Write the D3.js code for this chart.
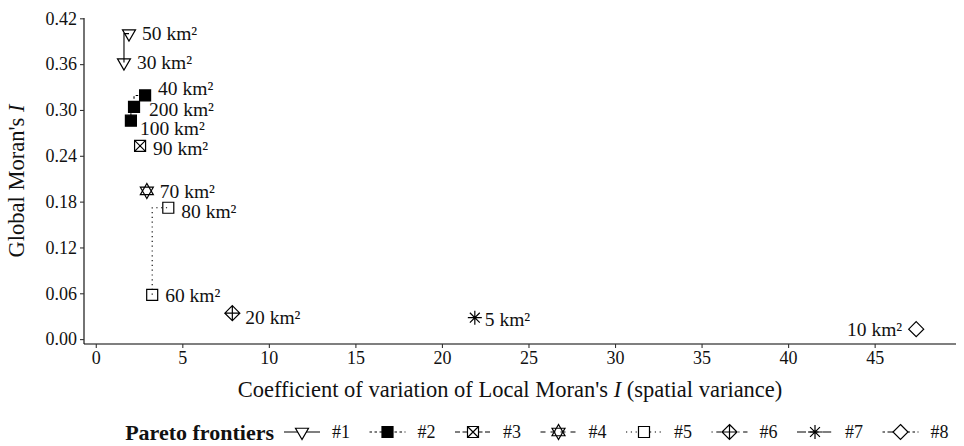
<!DOCTYPE html>
<html>
<head>
<meta charset="utf-8">
<script src="https://cdn.jsdelivr.net/npm/d3@7"></script>
<style>
  body { margin: 0; background: #fff; }
  svg text { font-family: "Liberation Serif", "Times New Roman", serif; fill: #111; }
</style>
</head>
<body>
<svg width="964" height="446" font-family="Liberation Serif, Times New Roman, serif"></svg>
<script>
// data
var frontiers = ["#1", "#2", "#3", "#4", "#5", "#6", "#7", "#8"];
var pointFrontier = [1, 1, 2, 2, 2, 3, 4, 5, 5, 6, 7, 8];
var cvLocal = [1.63, 1.92, 2.03, 2.21, 2.85, 2.56, 2.95, 3.26, 4.19, 7.89, 21.9, 47.4];
var globalI = [0.362, 0.400, 0.286, 0.304, 0.319, 0.253, 0.194, 0.058, 0.172, 0.034, 0.028, 0.013];
var areaLabels = ["30 km²", "50 km²", "100 km²", "200 km²", "40 km²", "90 km²", "70 km²", "60 km²", "80 km²", "20 km²", "5 km²", "10 km²"];
var xTicks = [0, 5, 10, 15, 20, 25, 30, 35, 40, 45];
var yTicks = [0.00, 0.06, 0.12, 0.18, 0.24, 0.30, 0.36, 0.42];

var svg = d3.select("svg");
var serif = "Liberation Serif, Times New Roman, serif";

var x = d3.scaleLinear().domain([-0.68, 49.7]).range([84, 956]);
var y = d3.scaleLinear().domain([-0.0064, 0.4204]).range([344, 18]);

// line types and shapes per frontier (ggplot defaults)
var dashes = ["none", "2.5,2.5", "5,2.5", "5,5", "1.2,3.6", "1.2,3.6,5,3.6", "9,3.6", "2.5,2.5,7.5,2.5"];
var shapes = ["triDown", "squareFill", "squareCross", "star", "square", "diamondPlus", "asterisk", "diamond"];

function shapePath(kind) {
    var p = d3.path(), s = 5.5, R = 7.5, c = R * Math.cos(Math.PI / 6), d = 7.5, a = 7;
    function tri(dir) {
        p.moveTo(0, dir * R); p.lineTo(-c, -dir * R / 2); p.lineTo(c, -dir * R / 2); p.closePath();
    }
    if (kind == "triDown") tri(1);
    else if (kind == "star") { tri(1); tri(-1); }
    else if (kind == "square" || kind == "squareFill" || kind == "squareCross") {
        p.rect(-s, -s, 2 * s, 2 * s);
        if (kind == "squareCross") { p.moveTo(-s, -s); p.lineTo(s, s); p.moveTo(s, -s); p.lineTo(-s, s); }
    }
    else if (kind == "diamond" || kind == "diamondPlus") {
        p.moveTo(0, -d); p.lineTo(d, 0); p.lineTo(0, d); p.lineTo(-d, 0); p.closePath();
        if (kind == "diamondPlus") { p.moveTo(0, -d); p.lineTo(0, d); p.moveTo(-d, 0); p.lineTo(d, 0); }
    }
    else if (kind == "asterisk") {
        var q = a * Math.SQRT1_2;
        p.moveTo(-a, 0); p.lineTo(a, 0); p.moveTo(0, -a); p.lineTo(0, a);
        p.moveTo(-q, -q); p.lineTo(q, q); p.moveTo(q, -q); p.lineTo(-q, q);
    }
    return p.toString();
}

function drawShape(g, i) {
    var k = shapes[i];
    g.append("path")
        .attr("d", shapePath(k))
        .attr("fill", k == "squareFill" ? "#000" : "none")
        .attr("stroke", "#000")
        .attr("stroke-width", 1.2)
        .attr("stroke-linejoin", "miter");
}

var points = areaLabels.map(function(l, i) {
    return { f: pointFrontier[i], x: cvLocal[i], y: globalI[i], label: l };
});

// axes
var xAxis = svg.append("g")
    .attr("transform", "translate(0,344)")
    .call(d3.axisBottom(x).tickValues(xTicks).tickSize(4).tickPadding(3).tickFormat(d3.format("d")));
var yAxis = svg.append("g")
    .attr("transform", "translate(84,0)")
    .call(d3.axisLeft(y).tickValues(yTicks).tickSize(4).tickPadding(3).tickFormat(d3.format(".2f")));

[xAxis, yAxis].forEach(function(a) {
    a.attr("font-family", serif).attr("font-size", 18);
    a.select(".domain").attr("stroke", "#000").attr("stroke-width", 1.1);
    a.selectAll(".tick line").attr("stroke", "#333").attr("stroke-width", 1.1);
    a.selectAll(".tick text").style("font-size", "18px").attr("fill", "#222");
});
xAxis.select(".domain").attr("d", "M84,0H956");
yAxis.select(".domain").attr("d", "M0,18V344");

// axis titles
svg.append("text")
    .attr("x", 510).attr("y", 397)
    .attr("text-anchor", "middle")
    .style("font-size", "22.5px")
    .html('Coefficient of variation of Local Moran\'s <tspan font-style="italic">I</tspan> (spatial variance)');

svg.append("text")
    .attr("transform", "translate(24,181) rotate(-90)")
    .attr("text-anchor", "middle")
    .style("font-size", "22.5px")
    .html('Global Moran\'s <tspan font-style="italic">I</tspan>');

// step lines for frontiers with more than one point
var line = d3.line()
    .x(function(d) { return x(d.x); })
    .y(function(d) { return y(d.y); })
    .curve(d3.curveStepBefore);

var groups = d3.group(points, function(d) { return d.f; });
groups.forEach(function(pts, f) {
    if (pts.length < 2) return;
    pts = pts.slice().sort(function(a, b) { return a.x - b.x; });
    svg.append("path")
        .attr("d", line(pts))
        .attr("fill", "none")
        .attr("stroke", "#000")
        .attr("stroke-width", 1.1)
        .attr("stroke-dasharray", dashes[f - 1]);
});

// points
svg.selectAll("g.pt")
    .data(points)
    .enter().append("g")
    .attr("class", "pt")
    .attr("transform", function(d) { return "translate(" + x(d.x) + "," + y(d.y) + ")"; })
    .each(function(d) { drawShape(d3.select(this), d.f - 1); });

// point labels (small nudges like ggrepel gave)
var nudge = {
    "40 km²": [13, -7], "200 km²": [15, 2], "100 km²": [9, 8], "90 km²": [13, 2], "80 km²": [13, 3],
    "20 km²": [13, 4], "5 km²": [10, 1], "10 km²": [-14, 0]
};
svg.selectAll("text.lbl")
    .data(points)
    .enter().append("text")
    .attr("class", "lbl")
    .attr("x", function(d) { return x(d.x) + (nudge[d.label] ? nudge[d.label][0] : 13); })
    .attr("y", function(d) { return y(d.y) + (nudge[d.label] ? nudge[d.label][1] : 0); })
    .attr("dy", "0.35em")
    .attr("text-anchor", function(d) { return d.label == "10 km²" ? "end" : "start"; })
    .style("font-size", "19.5px")
    .text(function(d) { return d.label; });

// legend
var legend = svg.append("g").attr("transform", "translate(0,432)");
legend.append("text")
    .attr("x", 274).attr("dy", "0.35em")
    .attr("text-anchor", "end")
    .style("font-size", "22px")
    .style("font-weight", "bold")
    .text("Pareto frontiers");

var keys = legend.selectAll("g.key")
    .data(frontiers)
    .enter().append("g")
    .attr("class", "key")
    .attr("transform", function(d, i) { return "translate(" + (302 + 85.5 * i) + ",0)"; });
keys.append("line")
    .attr("x1", -18).attr("x2", 18)
    .attr("stroke", "#000").attr("stroke-width", 1.1)
    .attr("stroke-dasharray", function(d, i) { return dashes[i]; });
keys.each(function(d, i) {
    var g = d3.select(this).append("g");
    if (shapes[i] != "squareFill") {
        g.append("path").attr("d", shapePath(shapes[i])).attr("fill", "#fff").attr("stroke", "none");
    }
    drawShape(g, i);
});
keys.append("text")
    .attr("x", 30).attr("dy", "0.35em")
    .style("font-size", "18px")
    .text(function(d) { return d; });
</script>
</body>
</html>
